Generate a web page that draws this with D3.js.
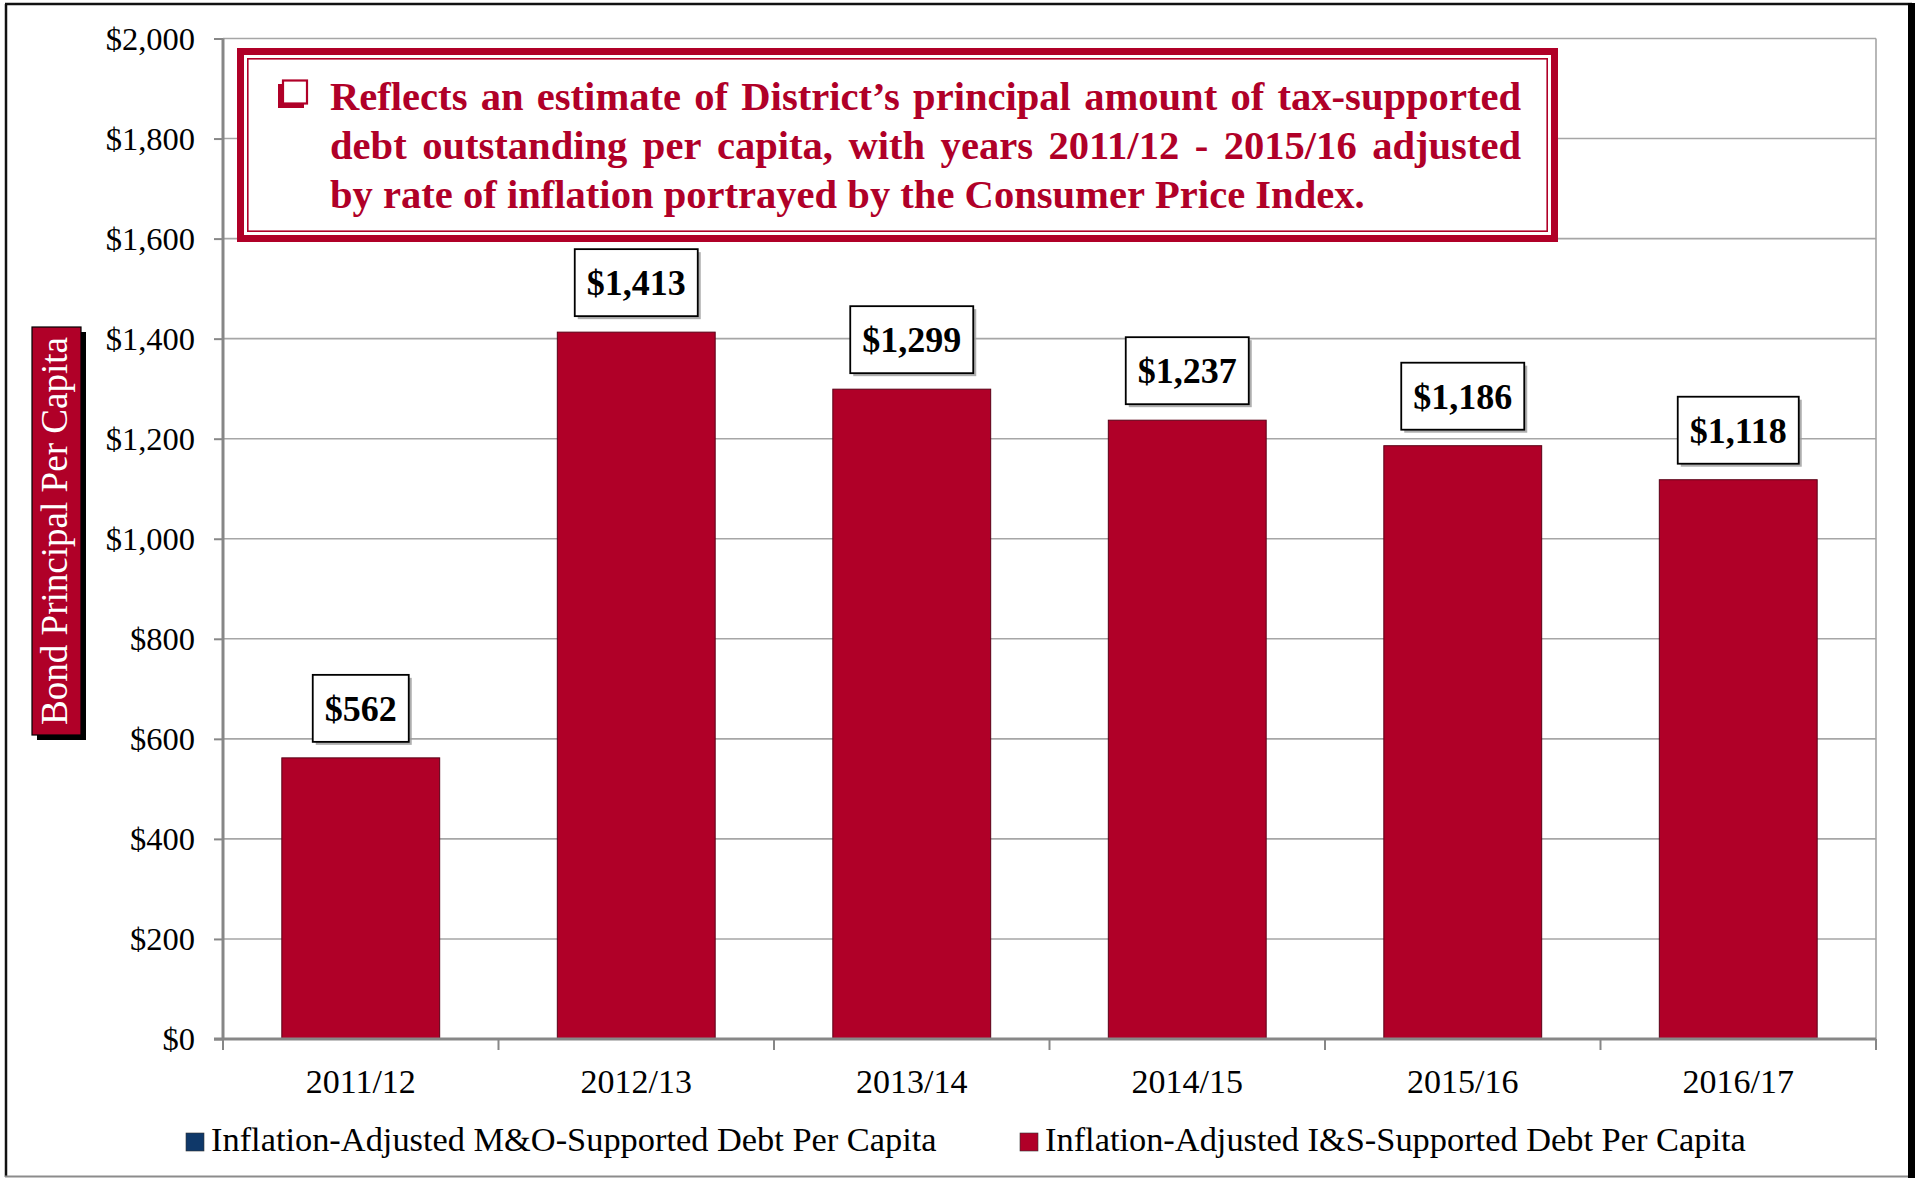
<!DOCTYPE html>
<html>
<head>
<meta charset="utf-8">
<script src="https://cdn.jsdelivr.net/npm/d3@7/dist/d3.min.js"></script>
<style>
  body { margin: 0; background: #fff; }
  svg { display: block; font-family: "Liberation Serif", "DejaVu Serif", serif; }
</style>
</head>
<body>
<div id="chart"></div>
<script>
// chart data
var categories = ["2011/12", "2012/13", "2013/14", "2014/15", "2015/16", "2016/17"];
var isValues = [562, 1413, 1299, 1237, 1186, 1118];
var moValues = [0, 0, 0, 0, 0, 0];
var yTicks = [0, 200, 400, 600, 800, 1000, 1200, 1400, 1600, 1800, 2000];
var legendLabels = ["Inflation-Adjusted M&O-Supported Debt Per Capita", "Inflation-Adjusted I&S-Supported Debt Per Capita"];
var seriesColors = ["#0f3869", "#b00028"];
var yTitle = "Bond Principal Per Capita";
var noteLines = [
  "Reflects an estimate of District\u2019s principal amount of tax-supported",
  "debt outstanding per capita, with years 2011/12 - 2015/16 adjusted",
  "by rate of inflation portrayed by the Consumer Price Index."
];

var W = 1915, H = 1178;
var plot = { left: 223, right: 1876, top: 38.5, bottom: 1039 };
var red = "#b00028";

var svg = d3.select("#chart").append("svg")
  .attr("width", W).attr("height", H);

var x = d3.scaleBand()
  .domain(categories)
  .range([plot.left, plot.right])
  .paddingInner(0.427)
  .paddingOuter(0.2135);

var y = d3.scaleLinear()
  .domain([0, 2000])
  .range([plot.bottom, plot.top]);

function fitFont(sel, target) {
  var w = sel.node().getComputedTextLength();
  var fs = parseFloat(sel.attr("font-size"));
  sel.attr("font-size", fs * target / w);
  return fs * target / w;
}

// outer frame
svg.append("line").attr("x1", 6).attr("x2", 6).attr("y1", 4).attr("y2", 1177)
  .attr("stroke", "#111").attr("stroke-width", 2.5);
svg.append("line").attr("x1", 5).attr("x2", 1912).attr("y1", 4).attr("y2", 4)
  .attr("stroke", "#111").attr("stroke-width", 2.5);
svg.append("rect").attr("x", 1908).attr("y", 3).attr("width", 7).attr("height", 1175)
  .attr("fill", "#000");
svg.append("line").attr("x1", 5).attr("x2", 1908).attr("y1", 1176.5).attr("y2", 1176.5)
  .attr("stroke", "#8c8c8c").attr("stroke-width", 2);

// gridlines
svg.append("g").selectAll("line")
  .data(yTicks.filter(function(d) { return d > 0; }))
  .join("line")
  .attr("x1", plot.left).attr("x2", plot.right)
  .attr("y1", function(d) { return y(d); })
  .attr("y2", function(d) { return y(d); })
  .attr("stroke", "#a6a6a6").attr("stroke-width", 1.6);

svg.append("line")
  .attr("x1", plot.right).attr("x2", plot.right)
  .attr("y1", plot.top).attr("y2", plot.bottom)
  .attr("stroke", "#a6a6a6").attr("stroke-width", 1.6);

// bars (I&S series; M&O is zero everywhere)
var bw = x.bandwidth();
svg.append("g").selectAll("rect")
  .data(categories.map(function(c, i) { return { cat: c, mo: moValues[i], is: isValues[i] }; }))
  .join("rect")
  .attr("x", function(d) { return x(d.cat); })
  .attr("y", function(d) { return y(d.mo + d.is); })
  .attr("width", bw)
  .attr("height", function(d) { return y(d.mo) - y(d.mo + d.is); })
  .attr("fill", seriesColors[1])
  .attr("stroke", "#5a0016").attr("stroke-width", 1);

// y axis
var yAxis = svg.append("g")
  .attr("transform", "translate(" + plot.left + ",0)")
  .call(d3.axisLeft(y).tickValues(yTicks).tickSize(9).tickPadding(19)
    .tickFormat(function(d) { return "$" + d3.format(",")(d); }));
yAxis.select(".domain").attr("stroke", "#878787").attr("stroke-width", 3)
  .attr("d", "M0," + plot.top + "V" + (plot.bottom + 1));
yAxis.selectAll(".tick line").attr("stroke", "#878787").attr("stroke-width", 2);
yAxis.selectAll(".tick text")
  .attr("font-family", "Liberation Serif").attr("font-size", 32.5)
  .attr("fill", "#000").attr("dy", "0.33em");

// x axis
var bounds = categories.map(function(c) { return x(c) - x.step() * x.paddingInner() / 2; });
bounds.push(plot.right);
svg.append("line")
  .attr("x1", plot.left - 9).attr("x2", plot.right)
  .attr("y1", plot.bottom).attr("y2", plot.bottom)
  .attr("stroke", "#878787").attr("stroke-width", 3);
svg.append("g").selectAll("line")
  .data(bounds)
  .join("line")
  .attr("x1", function(d) { return d; }).attr("x2", function(d) { return d; })
  .attr("y1", plot.bottom).attr("y2", plot.bottom + 11)
  .attr("stroke", "#878787").attr("stroke-width", 2);
svg.append("g").selectAll("text")
  .data(categories)
  .join("text")
  .attr("x", function(d) { return x(d) + bw / 2; })
  .attr("y", 1093)
  .attr("text-anchor", "middle")
  .attr("font-size", 34)
  .attr("fill", "#000")
  .text(function(d) { return d; });

// value labels
var labels = svg.append("g").selectAll("g")
  .data(categories.map(function(c, i) { return { cat: c, v: isValues[i] + moValues[i] }; }))
  .join("g")
  .attr("transform", function(d) {
    return "translate(" + (x(d.cat) + bw / 2) + "," + (y(d.v) - 16 - 67) + ")";
  });
labels.each(function(d) {
  var g = d3.select(this);
  var shadow = g.append("rect").attr("fill", "#9a9a9a").attr("opacity", 0.8);
  var box = g.append("rect").attr("fill", "#fff").attr("stroke", "#000").attr("stroke-width", 1.8);
  var t = g.append("text")
    .attr("x", 0).attr("y", 46)
    .attr("text-anchor", "middle")
    .attr("font-size", 36).attr("font-weight", "bold")
    .attr("fill", "#000")
    .text("$" + d3.format(",")(d.v));
  var tw = t.node().getComputedTextLength();
  var bwid = tw + 24;
  box.attr("x", -bwid / 2).attr("y", 0).attr("width", bwid).attr("height", 67);
  shadow.attr("x", -bwid / 2 + 3).attr("y", 3).attr("width", bwid).attr("height", 67);
});

// note box
var note = svg.append("g");
note.append("rect")
  .attr("x", 240.5).attr("y", 51.5).attr("width", 1314).attr("height", 187)
  .attr("fill", "#fff").attr("stroke", red).attr("stroke-width", 7);
note.append("rect")
  .attr("x", 247.8).attr("y", 58.8).attr("width", 1299.4).attr("height", 172.4)
  .attr("fill", "none").attr("stroke", red).attr("stroke-width", 1.6);

// checkbox glyph
note.append("path")
  .attr("d", "M278,84 H283 V103 H304 V108 H278 Z")
  .attr("fill", red);
note.append("rect")
  .attr("x", 283).attr("y", 80.5).attr("width", 24).attr("height", 23)
  .attr("fill", "#fff").attr("stroke", red).attr("stroke-width", 2.2);

var noteLeft = 330, noteRight = 1521;
var noteBase = [110, 159, 208];
var probe = note.append("text").attr("font-size", 36).attr("font-weight", "bold")
  .text(noteLines[2]);
var noteFs = fitFont(probe, 1034);
probe.remove();

noteLines.forEach(function(line, li) {
  var words = line.split(" ");
  var ws = words.map(function(w) {
    return note.append("text")
      .attr("font-size", noteFs).attr("font-weight", "bold")
      .attr("fill", red)
      .attr("y", noteBase[li])
      .text(w);
  });
  var widths = ws.map(function(t) { return t.node().getComputedTextLength(); });
  var total = d3.sum(widths);
  var gap;
  if (li < noteLines.length - 1) {
    gap = (noteRight - noteLeft - total) / (words.length - 1);
  } else {
    gap = noteFs * 0.25;
  }
  var cx = noteLeft;
  ws.forEach(function(t, i) {
    t.attr("x", cx);
    cx += widths[i] + gap;
  });
});

// y axis title
svg.append("rect").attr("x", 37).attr("y", 332).attr("width", 49).attr("height", 408)
  .attr("fill", "#000");
svg.append("rect").attr("x", 32).attr("y", 327).attr("width", 49).attr("height", 408)
  .attr("fill", red).attr("stroke", "#000").attr("stroke-width", 1.2);
var yt = svg.append("text")
  .attr("transform", "translate(67,531) rotate(-90)")
  .attr("text-anchor", "middle")
  .attr("font-size", 36)
  .attr("fill", "#fff")
  .text(yTitle);
fitFont(yt, 388);

// legend
var legendX = [186, 1020];
var leg = svg.append("g").selectAll("g")
  .data(legendLabels)
  .join("g")
  .attr("transform", function(d, i) { return "translate(" + legendX[i] + ",0)"; });
leg.append("rect")
  .attr("x", 0).attr("y", 1133).attr("width", 18).attr("height", 18)
  .attr("fill", function(d, i) { return seriesColors[i]; })
  .attr("stroke", "#333").attr("stroke-width", 0.6);
var legText = leg.append("text")
  .attr("x", 25).attr("y", 1151)
  .attr("font-size", 34)
  .attr("fill", "#000")
  .text(function(d) { return d; });
var legFs = fitFont(d3.select(legText.nodes()[0]), 726);
legText.attr("font-size", legFs);
</script>
</body>
</html>
